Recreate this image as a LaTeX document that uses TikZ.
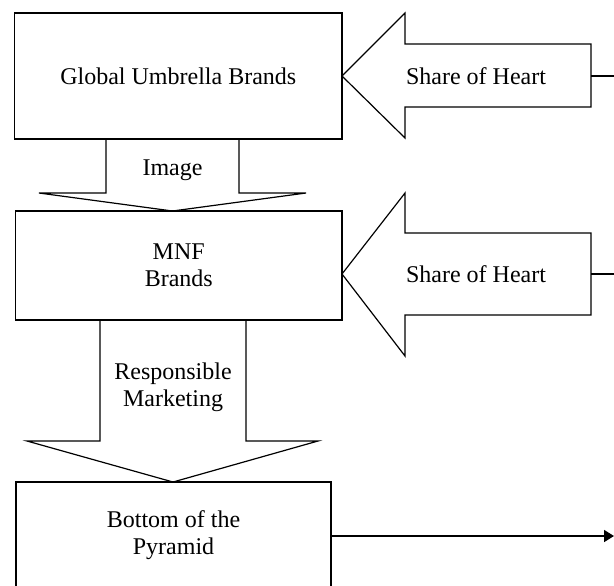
\documentclass[tikz,border=0pt]{standalone}
\usepackage{fontspec}
\setmainfont{Liberation Serif}
\usetikzlibrary{arrows.meta}
\tikzset{
  brandbox/.style={draw, line width=0.8pt, align=center, inner sep=0pt},
  blockarrow/.style={draw, line width=0.6pt, line join=miter},
  arrowlabel/.style={align=center, inner sep=0pt},
}

\begin{document}
\begin{tikzpicture}[x=0.5pt, y=-0.5pt, font=\fontsize{12}{13.5}\selectfont]
  \useasboundingbox (0,0) rectangle (614,585);
  \clip (0,0) rectangle (614,585);
  % brand levels
  \node[brandbox, minimum width=163.75pt, minimum height=63pt] (global) at (178.25,76) {Global Umbrella Brands};
  \node[brandbox, minimum width=163.25pt, minimum height=54.5pt] (mnf) at (178.75,265.5) {MNF\\Brands};
  \node[brandbox, minimum width=157.5pt, minimum height=53.5pt] (bottom) at (173.5,535.5) {Bottom of the\\Pyramid};
  % downward block arrows
  \draw[blockarrow] (106,139) -- (106,193) -- (39,193) -- (172.5,211) -- (306,193) -- (239,193) -- (239,139);
  \node[arrowlabel] (image) at (172.5,170) {Image};
  \draw[blockarrow] (100,320) -- (100,441) -- (27,441) -- (173,482) -- (318,441) -- (246,441) -- (246,320);
  \node[arrowlabel] (marketing) at (173,387) {Responsible\\Marketing};
  % share of heart arrows
  \draw[blockarrow] (342,76) -- (405,13) -- (405,44) -- (591,44) -- (591,107) -- (405,107) -- (405,138) -- cycle;
  \node[arrowlabel] (heart1) at (476,76) {Share of Heart};
  \draw[blockarrow] (342,274) -- (405,193) -- (405,233) -- (591,233) -- (591,315) -- (405,315) -- (405,356) -- cycle;
  \node[arrowlabel] (heart2) at (476,274) {Share of Heart};
  % feed lines from the right
  \coordinate (heart1tail) at (591,76);
  \coordinate (heart1edge) at (614,76);
  \coordinate (heart2tail) at (591,274);
  \coordinate (heart2edge) at (614,274);
  \coordinate (bottomedge) at (614,536);
  \draw[line width=0.6pt] (heart1tail) -- (heart1edge);
  \draw[line width=0.6pt] (heart2tail) -- (heart2edge);
  \draw[line width=0.8pt, -{Triangle[length=5pt,width=6pt]}] (bottom.east |- bottomedge) -- (bottomedge);
\end{tikzpicture}
\end{document}
